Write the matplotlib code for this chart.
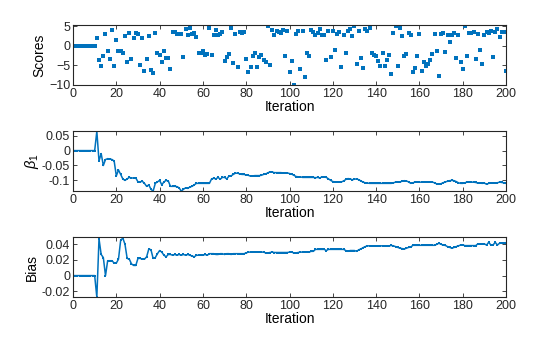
import numpy as np
import matplotlib
matplotlib.use('Agg')
import matplotlib.pyplot as plt
from matplotlib.ticker import FuncFormatter

# ---- data (iterations 0..200) ----
warmup = [0.0] * 11   # iterations 0..10

scores = warmup + [
    2.0, -3.6, -5.1, -2.5, 3.0, -1.4, -3.3, 3.9, -5.1, 1.5,      # 11-20
    -1.4, -1.4, -1.8, 2.5, -4.1, 3.3, -3.3, 2.0, 3.3, 3.0,       # 21-30
    -4.8, 2.0, -6.4, -3.3, 2.5, -6.1, -6.9, 3.3, -1.8, -2.3,     # 31-40
    -4.1, -1.3, -3.1, -3.1, -5.8, 3.6, 3.6, 3.0, 3.0, 3.0,       # 41-50
    -2.8, 4.3, 2.8, 4.6, 3.0, 3.3, 2.3, -1.8, -1.8, -1.3,        # 51-60
    -2.3, -2.0, 4.6, -2.3, 2.8, 3.9, 2.8, 3.0, 3.6, -3.8,        # 61-70
    -2.8, -2.0, 4.6, -4.3, 3.0, -5.3, 3.6, 3.3, 3.6, -3.3,       # 71-80
    -6.6, -5.3, -2.5, -1.8, -5.3, -2.8, -2.3, -3.6, -4.1, 5.1,   # 81-90
    -4.8, 4.1, 2.8, 3.8, 3.6, 3.3, 4.1, -2.5, 3.8, -6.6,         # 91-100
    -3.8, -9.9, 3.0, 3.8, -5.8, 3.8, -7.9, -1.8, -2.5, 4.1,      # 101-110
    3.6, 2.8, 3.3, 4.3, 2.8, 2.8, -3.6, 3.8, -2.8, 3.8,          # 111-120
    -1.0, 3.0, 3.6, -5.3, 2.8, -1.8, 3.8, 4.3, 2.5, 5.1,         # 121-130
    -4.6, 3.8, -3.1, -5.6, 4.3, 3.8, 4.6, -1.8, -2.3, -2.5,      # 131-140
    -3.8, -5.1, -1.8, -5.1, -3.6, -2.3, -7.1, 3.3, 5.1, -5.1,    # 141-150
    4.6, 2.5, -2.5, -2.0, 3.3, 2.8, -6.6, -5.6, -2.5, 3.0,       # 151-160
    -6.4, -4.1, -5.1, -4.6, -3.6, -2.0, 3.0, -1.3, -7.6, 3.0,    # 161-170
    3.3, -1.5, 2.8, 1.0, 2.8, 3.3, -3.1, 2.8, -4.1, -5.8,        # 171-180
    5.1, -2.5, 3.3, 3.3, 3.6, -3.3, 3.0, -1.0, -4.6, 2.8,        # 181-190
    3.6, 3.3, 3.8, -2.8, 3.6, 4.3, 2.3, 3.6, 3.6, -6.4,          # 191-200
]

beta1 = warmup + [
    0.065, -0.035, -0.010, -0.050, -0.030, -0.027, -0.028, -0.030, -0.035, -0.085,   # 11-20
    -0.065, -0.080, -0.095, -0.100, -0.095, -0.090, -0.092, -0.092, -0.092, -0.105,  # 21-30
    -0.105, -0.103, -0.110, -0.120, -0.115, -0.130, -0.136, -0.110, -0.105, -0.100,  # 31-40
    -0.115, -0.105, -0.100, -0.102, -0.120, -0.120, -0.120, -0.121, -0.125, -0.136,  # 41-50
    -0.130, -0.125, -0.127, -0.122, -0.120, -0.115, -0.110, -0.110, -0.110, -0.110,  # 51-60
    -0.110, -0.110, -0.110, -0.095, -0.093, -0.095, -0.090, -0.096, -0.090, -0.090,  # 61-70
    -0.095, -0.086, -0.085, -0.080, -0.076, -0.076, -0.078, -0.080, -0.080, -0.082,  # 71-80
    -0.083, -0.086, -0.085, -0.084, -0.084, -0.084, -0.083, -0.080, -0.078, -0.075,  # 81-90
    -0.071, -0.072, -0.074, -0.074, -0.074, -0.074, -0.075, -0.075, -0.075, -0.077,  # 91-100
    -0.079, -0.083, -0.087, -0.088, -0.088, -0.090, -0.090, -0.090, -0.090, -0.090,  # 101-110
    -0.090, -0.091, -0.090, -0.092, -0.088, -0.089, -0.090, -0.095, -0.100, -0.104,  # 111-120
    -0.105, -0.105, -0.105, -0.105, -0.102, -0.097, -0.094, -0.095, -0.098, -0.096,  # 121-130
    -0.095, -0.098, -0.102, -0.106, -0.108, -0.109, -0.110, -0.110, -0.110, -0.110,  # 131-140
    -0.110, -0.110, -0.110, -0.110, -0.110, -0.110, -0.110, -0.108, -0.106, -0.106,  # 141-150
    -0.105, -0.103, -0.101, -0.102, -0.105, -0.110, -0.108, -0.106, -0.106, -0.106,  # 151-160
    -0.106, -0.106, -0.106, -0.106, -0.106, -0.106, -0.108, -0.112, -0.113, -0.111,  # 161-170
    -0.108, -0.105, -0.103, -0.101, -0.100, -0.101, -0.104, -0.108, -0.110, -0.110,  # 171-180
    -0.108, -0.106, -0.106, -0.106, -0.106, -0.107, -0.109, -0.109, -0.110, -0.109,  # 181-190
    -0.113, -0.110, -0.109, -0.109, -0.109, -0.108, -0.106, -0.107, -0.108, -0.110,  # 191-200
]

bias = warmup + [
    -0.0277, 0.047, 0.027, 0.023, 0.000, 0.019, 0.019, 0.019, 0.016, 0.016,          # 11-20
    0.021, 0.045, 0.048, 0.040, 0.022, 0.021, 0.015, 0.013, 0.013, 0.022,            # 21-30
    0.022, 0.021, 0.021, 0.024, 0.034, 0.033, 0.022, 0.023, 0.028, 0.032,            # 31-40
    0.030, 0.026, 0.024, 0.027, 0.027, 0.026, 0.027, 0.026, 0.027, 0.026,            # 41-50
    0.027, 0.026, 0.027, 0.026, 0.025, 0.024, 0.026, 0.026, 0.026, 0.026,            # 51-60
    0.027, 0.026, 0.028, 0.028, 0.028, 0.027, 0.027, 0.028, 0.028, 0.027,            # 61-70
    0.028, 0.028, 0.027, 0.028, 0.028, 0.028, 0.028, 0.028, 0.028, 0.029,            # 71-80
    0.030, 0.030, 0.030, 0.030, 0.030, 0.030, 0.030, 0.030, 0.029, 0.029,            # 81-90
    0.0295, 0.030, 0.0295, 0.0295, 0.0295, 0.0295, 0.0295, 0.0295, 0.0295, 0.030,    # 91-100
    0.030, 0.029, 0.029, 0.0295, 0.030, 0.030, 0.030, 0.030, 0.030, 0.031,           # 101-110
    0.031, 0.0335, 0.0335, 0.0335, 0.0335, 0.0335, 0.032, 0.0335, 0.0335, 0.0335,    # 111-120
    0.0335, 0.0335, 0.0335, 0.0335, 0.0335, 0.032, 0.031, 0.032, 0.032, 0.032,       # 121-130
    0.031, 0.033, 0.034, 0.0357, 0.037, 0.038, 0.038, 0.038, 0.038, 0.038,           # 131-140
    0.038, 0.038, 0.038, 0.038, 0.038, 0.038, 0.0385, 0.038, 0.037, 0.036,           # 141-150
    0.035, 0.0345, 0.034, 0.035, 0.036, 0.0365, 0.0387, 0.0387, 0.0387, 0.0387,      # 151-160
    0.0387, 0.0387, 0.0387, 0.0387, 0.0387, 0.0387, 0.0387, 0.040, 0.0413, 0.040,    # 161-170
    0.039, 0.0385, 0.037, 0.036, 0.035, 0.036, 0.037, 0.038, 0.039, 0.0391,          # 171-180
    0.0383, 0.0383, 0.0383, 0.0383, 0.0383, 0.0383, 0.0405, 0.0405, 0.0405, 0.0405,  # 181-190
    0.039, 0.0426, 0.039, 0.039, 0.0426, 0.039, 0.0413, 0.0413, 0.0413, 0.0413,      # 191-200
]

xticks = np.arange(0, 201, 20)

# ---- MATLAB-ish look ----
plt.rcParams['font.family'] = ['Liberation Sans', 'DejaVu Sans']
plt.rcParams['font.size'] = 9
plt.rcParams['axes.linewidth'] = 0.8
plt.rcParams['axes.edgecolor'] = '#262626'
plt.rcParams['xtick.color'] = '#262626'
plt.rcParams['ytick.color'] = '#262626'
plt.rcParams['text.color'] = '#262626'
plt.rcParams['xtick.direction'] = 'in'
plt.rcParams['ytick.direction'] = 'in'
plt.rcParams['xtick.top'] = True
plt.rcParams['ytick.right'] = True
plt.rcParams['mathtext.fontset'] = 'custom'
plt.rcParams['mathtext.rm'] = 'Liberation Sans'
plt.rcParams['mathtext.it'] = 'Liberation Sans:italic'

blue = '#0072BD'
fig = plt.figure(figsize=(5.6, 3.37), dpi=100)

left, width, height = 0.1304, 0.7732, 0.178
axScore = fig.add_axes([left, 0.7478, width, height])
axBeta = fig.add_axes([left, 0.4332, width, height])
axBias = fig.add_axes([left, 0.1178, width, height])

it = np.arange(len(scores))
axScore.plot(it, scores, 's', color=blue, ms=2.6, mew=0)
axScore.set_ylim(-10, 5.3)
axScore.set_yticks([-10, -5, 0, 5])
axScore.set_ylabel('Scores', fontsize=10, labelpad=2)

axBeta.plot(np.arange(len(beta1)), beta1, '-s', color=blue, lw=1.1, ms=2.0, mew=0)
axBeta.set_ylim(-0.1357, 0.0657)
axBeta.set_yticks([-0.1, -0.05, 0, 0.05])
axBeta.yaxis.set_major_formatter(FuncFormatter(lambda v, p: '%g' % round(v, 4)))
axBeta.set_ylabel(r'$\beta_1$', fontsize=10.5, labelpad=1)

axBias.plot(np.arange(len(bias)), bias, '-s', color=blue, lw=1.1, ms=2.0, mew=0)
axBias.set_ylim(-0.0277, 0.0489)
axBias.set_yticks([-0.02, 0, 0.02, 0.04])
axBias.yaxis.set_major_formatter(FuncFormatter(lambda v, p: '%g' % round(v, 4)))
axBias.set_ylabel('Bias', fontsize=10, labelpad=2)

for ax in [axScore, axBeta, axBias]:
    ax.set_xlim(0, 200)
    ax.set_xticks(xticks)
    ax.tick_params(length=3, width=0.6, labelsize=9, pad=2)
    ax.set_xlabel('Iteration', fontsize=10, labelpad=0)

fig.savefig('out.png', dpi=100)
